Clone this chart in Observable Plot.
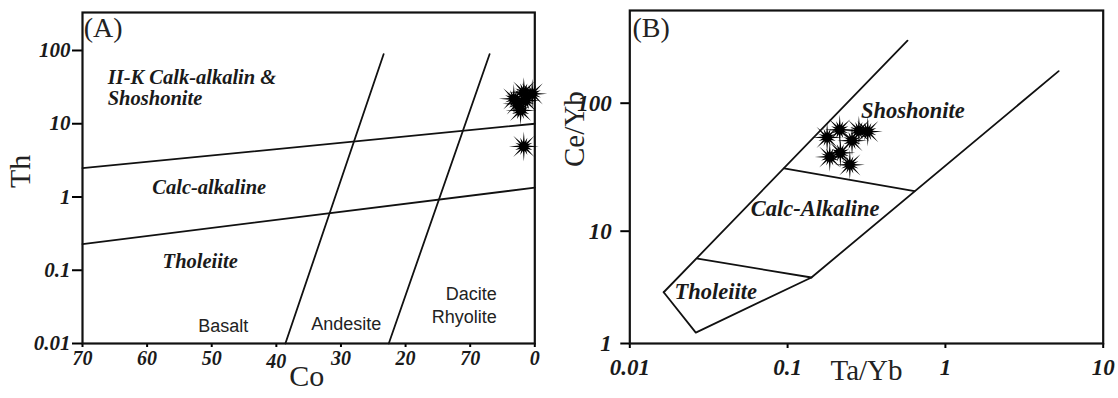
<!DOCTYPE html>
<html><head><meta charset="utf-8">
<script src="https://cdn.jsdelivr.net/npm/d3@7"></script>
<script src="https://cdn.jsdelivr.net/npm/@observablehq/plot@0.6"></script>
<style>
body{margin:0;background:#fff;}
#wrap{position:relative;width:1118px;height:398px;overflow:hidden;}
#a,#b{position:absolute;top:0;}
#a{left:0}#b{left:559px}
</style></head><body><div id="wrap"><div id="a"></div><div id="b"></div></div>
<script>
// ---------- Panel A : Th vs Co ----------
const coTicks = [70, 60, 50, 40, 30, 20, 10, 0];
const coTickLabels = ["70", "60", "50", "40", "30", "20", "70", "0"];
const coTicksLowered = [40];
const thTicks = [0.01, 0.1, 1, 10, 100];
const thTickLabels = ["0.01", "0.1", "1", "10", "100"];
const sampleCo = [1.7, 0.4, 2.7, 2.2, 3.25, 1.44, 1.7];
const sampleTh = [27, 25.6, 18.7, 15.2, 21.9, 20.7, 4.9];
const lineShoCalcA = [[70, 2.47], [0, 10]];
const lineCalcTholA = [[70, 0.228], [0, 1.34]];
const lineBasAndA = [[38.6, 0.01], [23.4, 89]];
const lineAndDacA = [[22.6, 0.01], [7.0, 89]];
const seriesLabelsA = [
  {text: "II-K Calk-alkalin &", co: 66.1, th: 43.5},
  {text: "Shoshonite", co: 66.1, th: 22.1},
  {text: "Calc-alkaline", co: 59.2, th: 1.37},
  {text: "Tholeiite", co: 57.6, th: 0.13}
];
const rockLabelsStartA = [
  {text: "Basalt", co: 52.1, th: 0.017},
  {text: "Andesite", co: 34.6, th: 0.0182}
];
const rockLabelsEndA = [
  {text: "Dacite", co: 5.9, th: 0.0467},
  {text: "Rhyolite", co: 5.9, th: 0.0227}
];
const panelLabelA = {text: "(A)", co: 69.8, th: 200};

// ---------- Panel B : Ce/Yb vs Ta/Yb ----------
const tayTicks = [0.01, 0.1, 1, 10];
const tayTickLabels = ["0.01", "0.1", "1", "10"];
const ceyTicks = [1, 10, 100];
const ceyTickLabels = ["1", "10", "100"];
const sampleTaYb = [0.178, 0.214, 0.283, 0.322, 0.256, 0.216, 0.185, 0.248];
const sampleCeYb = [54, 62, 61, 60, 51, 41, 38, 33];
const lineUpperB = [[0.0164, 2.86], [0.575, 308]];
const lineLowerB = [[0.0164, 2.86], [0.0262, 1.25], [0.1416, 3.87], [5.22, 178]];
const lineTholCalcB = [[0.0269, 5.7], [0.1416, 3.87]];
const lineCalcShoB = [[0.095, 31], [0.637, 20.6]];
const seriesLabelsB = [
  {text: "Shoshonite", tay: 0.292, cey: 88},
  {text: "Calc-Alkaline", tay: 0.0585, cey: 14.9},
  {text: "Tholeiite", tay: 0.0192, cey: 2.87}
];
const panelLabelB = {text: "(B)", tay: 0.0104, cey: 384};

// ---------- shared ----------
const serif = "'Liberation Serif','Times New Roman',serif";
const sans = "'Liberation Sans',Arial,sans-serif";
const starSymbol = {
  draw(ctx, size) {
    const R = Math.sqrt(size / Math.PI);
    const n = 32;
    for (let k = 0; k < n; k++) {
      const a = k * Math.PI * 2 / n - Math.PI / 2;
      let r;
      if (k % 2) r = R * 0.3;
      else if (k % 4 === 0) r = R;
      else r = R * 0.62;
      const x = r * Math.cos(a), y = r * Math.sin(a);
      if (k === 0) ctx.moveTo(x, y); else ctx.lineTo(x, y);
    }
    ctx.closePath();
  }
};
const lineStyle = {x: d => d[0], y: d => d[1], stroke: "#111", strokeWidth: 1.8};
const boldIt = {fontWeight: "bold", fontStyle: "italic", fill: "#1a1a1a"};
const coFmt = d => coTickLabels[coTicks.indexOf(d)];

const ptsA = sampleCo.map((c, i) => ({co: c, th: sampleTh[i]}));
const chartA = Plot.plot({
  width: 559, height: 398,
  marginLeft: 82, marginRight: 24.7, marginTop: 12, marginBottom: 55,
  style: {fontFamily: serif, background: "transparent", overflow: "visible"},
  x: {domain: [70, 0]},
  y: {type: "log", domain: [0.01, 330]},
  marks: [
    Plot.line(lineShoCalcA, lineStyle),
    Plot.line(lineCalcTholA, lineStyle),
    Plot.line(lineBasAndA, lineStyle),
    Plot.line(lineAndDacA, lineStyle),
    Plot.axisY(thTicks, {anchor: "left", tickSize: 10, tickPadding: 2, strokeWidth: 2,
      tickFormat: d => thTickLabels[thTicks.indexOf(d)], fontSize: 21, ...boldIt, label: null}),
    Plot.axisX(coTicks.filter(d => !coTicksLowered.includes(d)), {anchor: "bottom", tickSize: 4, tickPadding: 3, strokeWidth: 2,
      tickFormat: coFmt, fontSize: 20, ...boldIt, label: null}),
    Plot.axisX(coTicksLowered, {anchor: "bottom", tickSize: 4, tickPadding: 6, strokeWidth: 2,
      tickFormat: coFmt, fontSize: 20, ...boldIt, label: null}),
    Plot.frame({stroke: "#111", strokeWidth: 2.2}),
    Plot.text(seriesLabelsA, {x: "co", y: "th", text: "text", textAnchor: "start", fontSize: 20.5, ...boldIt}),
    Plot.text(rockLabelsStartA, {x: "co", y: "th", text: "text", textAnchor: "start", fontSize: 18, fontFamily: sans, fill: "#222"}),
    Plot.text(rockLabelsEndA, {x: "co", y: "th", text: "text", textAnchor: "end", fontSize: 18, fontFamily: sans, fill: "#222"}),
    Plot.text([panelLabelA], {x: "co", y: "th", text: "text", textAnchor: "start", fontSize: 28, fill: "#222"}),
    Plot.text(["Co"], {frameAnchor: "bottom", text: d => d, dy: 42, dx: -2, fontSize: 30, fill: "#222"}),
    Plot.text(["Th"], {frameAnchor: "left", text: d => d, dx: -62, dy: 10, rotate: -90, fontSize: 30, fill: "#222"}),
    Plot.dot(ptsA, {x: "co", y: "th", symbol: starSymbol, r: 15, fill: "#000", stroke: "none"})
  ]
});
document.getElementById("a").append(chartA);

const ptsB = sampleTaYb.map((t, i) => ({tay: t, cey: sampleCeYb[i]}));
const chartB = Plot.plot({
  width: 559, height: 398,
  marginLeft: 70.3, marginRight: 15.3, marginTop: 10, marginBottom: 55,
  style: {fontFamily: serif, background: "transparent", overflow: "visible"},
  x: {type: "log", domain: [0.01, 10]},
  y: {type: "log", domain: [1, 10, 100, 530], range: [343, 230.7, 102.7, 10]},
  marks: [
    Plot.line(lineUpperB, lineStyle),
    Plot.line(lineLowerB, lineStyle),
    Plot.line(lineTholCalcB, lineStyle),
    Plot.line(lineCalcShoB, lineStyle),
    Plot.axisY(ceyTicks, {anchor: "left", tickSize: 9, tickPadding: 9, strokeWidth: 2,
      tickFormat: d => ceyTickLabels[ceyTicks.indexOf(d)], fontSize: 23, ...boldIt, label: null}),
    Plot.axisX(tayTicks, {anchor: "bottom", tickSize: 5, tickPadding: 10, strokeWidth: 2,
      tickFormat: d => tayTickLabels[tayTicks.indexOf(d)], fontSize: 23, ...boldIt, label: null}),
    Plot.frame({stroke: "#111", strokeWidth: 2.2}),
    Plot.text(seriesLabelsB, {x: "tay", y: "cey", text: "text", textAnchor: "start", fontSize: 22.5, ...boldIt}),
    Plot.text([panelLabelB], {x: "tay", y: "cey", text: "text", textAnchor: "start", fontSize: 28, fill: "#222"}),
    Plot.text(["Ta/Yb"], {frameAnchor: "bottom", text: d => d, dy: 36, fontSize: 29, fill: "#222"}),
    Plot.text(["Ce/Yb"], {frameAnchor: "left", text: d => d, dx: -55, dy: -10, rotate: -90, fontSize: 29, fill: "#222"}),
    Plot.dot(ptsB, {x: "tay", y: "cey", symbol: starSymbol, r: 15, fill: "#000", stroke: "none"})
  ]
});
document.getElementById("b").append(chartB);
</script></body></html>
